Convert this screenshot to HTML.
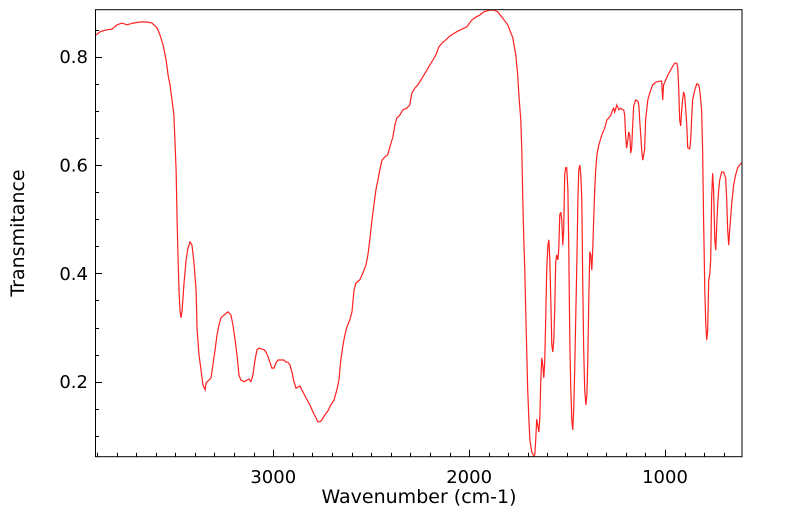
<!DOCTYPE html>
<html><head><meta charset="utf-8"><style>
html,body{margin:0;padding:0;background:#fff;}
svg{display:block;font-family:"DejaVu Sans","Liberation Sans",sans-serif;}
</style></head><body>
<svg id="chart" width="799" height="516" xmlns="http://www.w3.org/2000/svg">
<defs><clipPath id="pc"><rect x="95" y="9.7" width="647" height="447"/></clipPath></defs>
<path id="line" fill="none" stroke="#ff2020" stroke-width="1.2" clip-path="url(#pc)"/>
<rect x="95.5" y="9.7" width="646.5" height="447" fill="none" stroke="#000" stroke-width="1"/>
<g id="ticks"></g>
<text x="419" y="503" font-size="19" text-anchor="middle">Wavenumber (cm-1)</text>
<text transform="translate(24,233) rotate(-90)" font-size="19" text-anchor="middle">Transmitance</text>
</svg>
<script>
const wavenumbers=[3905,3884,3859,3823,3797,3772,3746,3716,3680,3644,3619,3593,3578,3563,3547,3537,3527,3517,3507,3502,3496,3491,3486,3481,3476,3471,3466,3456,3445,3435,3425,3415,3405,3394,3389,3379,3369,3359,3348,3343,3328,3318,3308,3297,3287,3277,3267,3252,3231,3216,3206,3195,3185,3175,3165,3149,3134,3124,3114,3104,3093,3083,3073,3058,3047,3037,3027,3017,3007,2996,2986,2976,2961,2945,2935,2925,2915,2905,2894,2884,2874,2864,2848,2833,2813,2797,2782,2772,2762,2752,2736,2721,2706,2690,2675,2665,2655,2644,2634,2624,2609,2598,2588,2578,2558,2542,2527,2517,2507,2496,2486,2476,2466,2456,2445,2430,2415,2405,2389,2379,2369,2354,2338,2318,2303,2292,2277,2262,2246,2231,2216,2200,2185,2170,2155,2139,2119,2099,2073,2048,2012,1986,1966,1945,1925,1894,1874,1854,1828,1803,1777,1762,1752,1746,1736,1731,1726,1721,1716,1711,1706,1701,1695,1690,1680,1670,1665,1660,1655,1650,1644,1639,1634,1629,1624,1619,1614,1609,1604,1598,1593,1588,1583,1578,1573,1568,1563,1558,1553,1547,1542,1537,1532,1527,1522,1517,1512,1507,1502,1496,1491,1486,1481,1476,1471,1466,1461,1450,1445,1440,1435,1430,1425,1420,1415,1410,1404,1399,1394,1389,1384,1379,1374,1369,1364,1359,1354,1348,1338,1323,1308,1297,1287,1277,1267,1262,1257,1252,1246,1236,1226,1216,1211,1206,1201,1196,1190,1185,1180,1175,1170,1165,1160,1150,1139,1134,1129,1119,1114,1104,1099,1088,1078,1063,1047,1027,1017,1012,1007,986,966,951,940,935,930,925,920,915,910,905,900,894,889,884,874,869,864,859,848,838,828,823,813,808,803,797,792,787,782,777,772,767,762,757,752,746,741,736,731,726,721,711,701,690,685,680,675,670,660,650,639,629,619,609];
const transmittance=[0.840,0.846,0.849,0.851,0.859,0.862,0.859,0.862,0.864,0.864,0.862,0.853,0.840,0.822,0.794,0.766,0.748,0.720,0.692,0.646,0.591,0.499,0.425,0.369,0.332,0.318,0.329,0.379,0.425,0.447,0.458,0.452,0.421,0.369,0.296,0.249,0.222,0.194,0.185,0.198,0.203,0.207,0.231,0.259,0.286,0.305,0.318,0.323,0.329,0.323,0.305,0.277,0.249,0.212,0.203,0.200,0.203,0.205,0.200,0.212,0.240,0.259,0.262,0.260,0.259,0.255,0.246,0.236,0.225,0.225,0.235,0.240,0.240,0.240,0.236,0.236,0.231,0.218,0.200,0.188,0.190,0.192,0.181,0.170,0.157,0.144,0.133,0.126,0.126,0.129,0.139,0.146,0.157,0.166,0.185,0.203,0.240,0.268,0.286,0.301,0.314,0.329,0.369,0.382,0.388,0.401,0.415,0.434,0.462,0.499,0.526,0.554,0.572,0.591,0.609,0.615,0.619,0.633,0.652,0.674,0.687,0.692,0.702,0.705,0.711,0.733,0.742,0.748,0.757,0.766,0.775,0.785,0.794,0.803,0.818,0.825,0.831,0.838,0.844,0.849,0.855,0.868,0.873,0.877,0.883,0.886,0.886,0.883,0.871,0.859,0.835,0.803,0.766,0.729,0.683,0.628,0.536,0.462,0.406,0.332,0.259,0.185,0.129,0.092,0.070,0.063,0.065,0.092,0.131,0.120,0.107,0.133,0.203,0.244,0.231,0.207,0.236,0.314,0.406,0.452,0.462,0.425,0.351,0.268,0.255,0.277,0.332,0.421,0.434,0.425,0.447,0.508,0.513,0.499,0.452,0.480,0.582,0.595,0.595,0.554,0.443,0.277,0.185,0.129,0.111,0.148,0.222,0.425,0.536,0.591,0.600,0.582,0.536,0.388,0.259,0.185,0.157,0.176,0.240,0.351,0.440,0.434,0.406,0.443,0.499,0.554,0.591,0.619,0.637,0.655,0.668,0.683,0.687,0.692,0.702,0.705,0.698,0.704,0.711,0.702,0.705,0.702,0.702,0.692,0.655,0.631,0.646,0.661,0.655,0.622,0.632,0.674,0.709,0.720,0.718,0.711,0.683,0.628,0.609,0.628,0.683,0.720,0.733,0.748,0.753,0.755,0.755,0.720,0.748,0.766,0.779,0.788,0.788,0.779,0.742,0.683,0.672,0.702,0.720,0.735,0.729,0.702,0.672,0.632,0.630,0.646,0.687,0.720,0.739,0.750,0.748,0.739,0.702,0.628,0.499,0.369,0.305,0.277,0.296,0.388,0.397,0.425,0.536,0.585,0.554,0.462,0.443,0.489,0.526,0.554,0.572,0.587,0.587,0.576,0.536,0.480,0.452,0.480,0.526,0.563,0.582,0.595,0.600,0.604];
const xMajorTicks=[3000,2000,1000];
const yMajorTicks=[0.2,0.4,0.6,0.8];
const xDomain=[3910,607], yDomain=[0.0615,0.8868];
const L=95,R=742,T=9.7,B=456.7;
const sx=w=>L+(xDomain[0]-w)/(xDomain[0]-xDomain[1])*(R-L);
const sy=v=>B-(v-yDomain[0])/(yDomain[1]-yDomain[0])*(B-T);
const NS='http://www.w3.org/2000/svg';
let d='';
wavenumbers.forEach((w,i)=>{d+=(i?'L':'M')+sx(w).toFixed(1)+','+sy(transmittance[i]).toFixed(1);});
document.getElementById('line').setAttribute('d',d);
const tg=document.getElementById('ticks');
function ln(x1,y1,x2,y2){const l=document.createElementNS(NS,'line');l.setAttribute('x1',x1);l.setAttribute('y1',y1);l.setAttribute('x2',x2);l.setAttribute('y2',y2);l.setAttribute('stroke','#000');l.setAttribute('stroke-width','1');


tg.appendChild(l);}
function tx(x,y,s,anchor,name){const t=document.createElementNS(NS,'text');t.setAttribute('x',x);t.setAttribute('y',y);t.setAttribute('font-size','18');t.setAttribute('text-anchor',anchor);t.textContent=s;


tg.appendChild(t);}
for(let w=3900;w>=700;w-=100){const x=Math.round(sx(w))+0.5;const major=xMajorTicks.includes(w);ln(x,B,x,B-(major?7:4));}
xMajorTicks.forEach(w=>tx(sx(w),483,String(w),'middle','x-tick-label'));
for(let k=2;k<=17;k++){const v=k*0.05;const y=Math.round(sy(v))+0.5;const major=yMajorTicks.some(m=>Math.abs(m-v)<1e-6);ln(L,y,L+(major?7:4),y);}
yMajorTicks.forEach(v=>tx(88,sy(v)+6.5,v.toFixed(1),'end','y-tick-label'));
</script>
</body></html>
